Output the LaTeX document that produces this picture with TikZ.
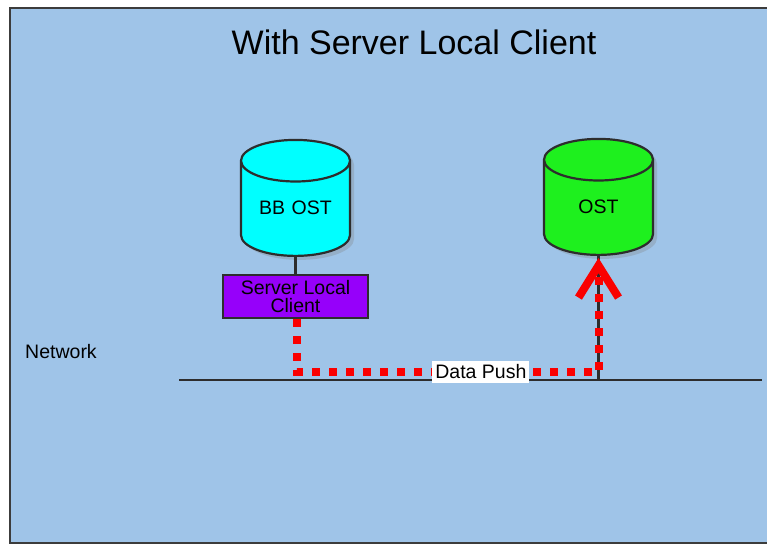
\documentclass[tikz,border=0pt]{standalone}
\usepackage{fontspec}
\setmainfont{Liberation Sans}
\usetikzlibrary{shapes.geometric,shadows,arrows.meta}

\definecolor{bgblue}{RGB}{159,196,232}
\definecolor{framegray}{RGB}{60,60,60}
\definecolor{linegray}{RGB}{45,45,45}
\definecolor{bbcyan}{RGB}{0,255,255}
\definecolor{ostgreen}{RGB}{30,240,30}
\definecolor{clientpurple}{RGB}{150,0,250}
\definecolor{pushred}{RGB}{250,0,0}

\tikzset{
  disk/.style={cylinder,shape border rotate=90,aspect=0.48,draw=linegray,
    line width=2.2pt,minimum width=109pt,minimum height=116pt,anchor=south,
    text width=80pt,align=center,
    drop shadow={shadow xshift=4pt,shadow yshift=-4pt,opacity=0.3}},
  clientbox/.style={draw=linegray,line width=2pt,fill=clientpurple,
    minimum width=145pt,minimum height=43pt,inner sep=0pt,align=center},
  pushline/.style={draw=pushred,line width=8pt,dash pattern=on 8pt off 9pt},
  wire/.style={draw=linegray,line width=2.5pt}
}

\begin{document}
\begin{tikzpicture}[x=1pt,y=-1pt,font=\fontsize{19.5}{18}\selectfont]

  \useasboundingbox (0,0) rectangle (767,545);
  \fill[white] (0,0) rectangle (767,545);
  \draw[framegray,line width=2pt,fill=bgblue] (10,8) rectangle (780,543);

  \node (title) at (414,42) {\fontsize{34}{36}\selectfont With Server Local Client};
  \node (network) at (61,352) {Network};

  % network wire
  \coordinate (netL) at (179,380);
  \coordinate (netR) at (762,380);
  \path[wire] (netL) -- (netR);

  \begin{scope}[every node/.style={disk}]
    \node[fill=bbcyan]   (bbost) at (295.5,257) {\raisebox{10pt}{BB OST}};
    \node[fill=ostgreen] (ost)   at (598.5,256) {\raisebox{10pt}{OST}};
  \end{scope}

  \node[clientbox] (client) at (295.5,296.5) {Server Local\\ Client};

  % taps
  \coordinate (ostTap) at (ost.south |- netR);
  \path[wire] (bbost.south) -- (client.north);
  \path[wire] (ost.south) -- (ostTap);

  % data push route
  \coordinate (turn) at (297,372);
  \coordinate (tip) at (598.5,258);
  \path[pushline,-{Straight Barb[length=32pt,width=40pt]}]
    (client.south -| turn) -- (turn)
    -- node[pos=0.61,fill=white,inner xsep=3pt,inner ysep=4pt] (push) {Data Push} (turn -| tip)
    -- (tip);

\end{tikzpicture}
\end{document}
